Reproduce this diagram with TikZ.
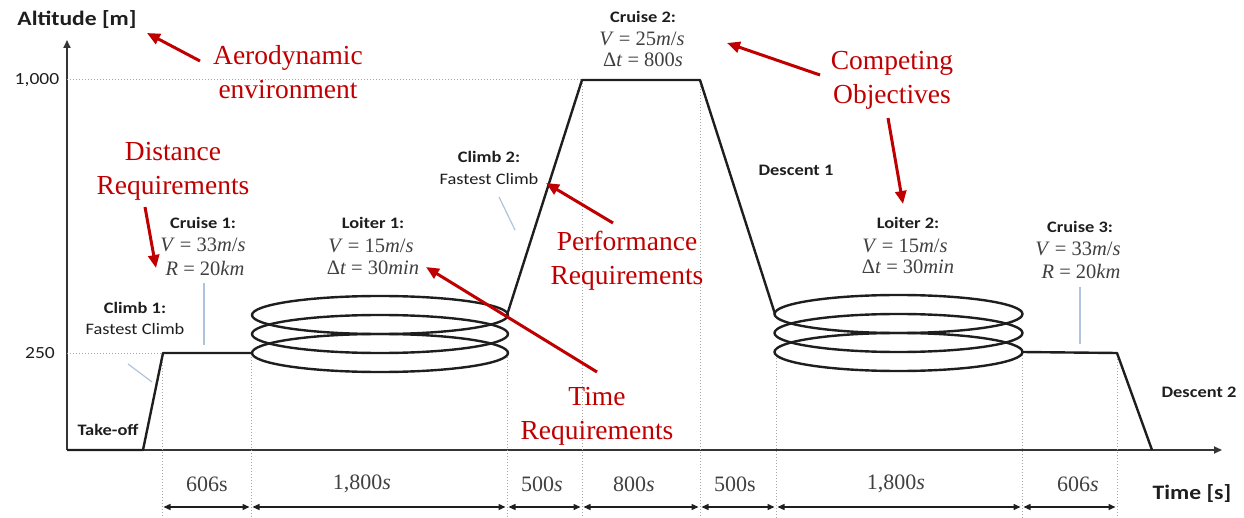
\documentclass[tikz,border=0pt]{standalone}
\usepackage{fontspec}
\setmainfont{Liberation Serif}
\newfontfamily\labfont[FakeStretch=1.15]{Carlito}
\newfontfamily\eqfont{Liberation Serif}
\usetikzlibrary{arrows.meta}
\definecolor{annot}{RGB}{192,0,0}
\definecolor{leader}{RGB}{175,195,220}
\definecolor{ink}{RGB}{30,30,30}
\newcommand{\vr}[1]{\textit{#1}}
\tikzset{
  lab/.style={font=\labfont\fontsize{16}{19}\selectfont, text=ink, inner sep=0pt},
  blab/.style={font=\labfont\bfseries\fontsize{16}{19}\selectfont, text=ink, inner sep=0pt},
  axlab/.style={font=\labfont\bfseries\fontsize{20.5}{24}\selectfont, text=ink, inner sep=0pt},
  ticklab/.style={font=\labfont\fontsize{17}{20}\selectfont, text=ink, inner sep=0pt},
  mathlab/.style={font=\eqfont\fontsize{20.5}{24}\selectfont, text=ink!85, inner sep=0pt},
  dimlab/.style={font=\eqfont\fontsize{22}{25}\selectfont, text=ink!85, inner sep=0pt},
  note/.style={font=\fontsize{27.5}{34}\selectfont, text=annot, align=center, inner sep=0pt},
  notearrow/.style={draw=annot, line width=3pt, -{Triangle[length=13pt,width=11pt]}},
  profile/.style={line width=2.4pt, draw=ink, line join=round},
  axis/.style={line width=1.8pt, draw=ink!90, -{Triangle[length=8pt,width=7pt]}},
  guide/.style={draw=gray!70, dotted, line width=1pt},
  dim/.style={line width=1.4pt, draw=ink, {Triangle[length=7pt,width=6pt]}-{Triangle[length=7pt,width=6pt]}, shorten <=1.5pt, shorten >=1.5pt},
  leaderline/.style={draw=leader, line width=1.2pt},
}
\begin{document}
\begin{tikzpicture}[x=1pt,y=-1pt]
\useasboundingbox (0,0) rectangle (1244,518);

% axes
\coordinate (O) at (67,450);
\coordinate (ytop) at (67,40);
\coordinate (xend) at (1222,450);
\draw[axis] (O) -- (ytop);
\draw[axis] (O) -- (xend);
\node[axlab] (ylab) at (77,20) {Altitude [m]};
\node[axlab] (xlab) at (1192,494) {Time [s]};
\node[ticklab] (t1000) at (37,80) {1,000};
\node[ticklab] (t250) at (40,353) {250};

% profile corners
\coordinate (c1a) at (143,450);
\coordinate (c1b) at (163,353);
\coordinate (l1in) at (252,353);
\coordinate (l1out) at (507,315);
\coordinate (c2top) at (582,80);
\coordinate (d1top) at (700,80);
\coordinate (l2in) at (775,314);
\coordinate (l2out) at (1022,352);
\coordinate (d2top) at (1117,353);
\coordinate (d2bot) at (1152,450);

% reference levels
\draw[guide] (67,80) -- (c2top);
\draw[guide] (67,353) -- (c1b);

% phase boundaries
\foreach \n/\x/\y in {g0/162/353, g1/251/357, g2/507/357, g3/582/80, g4/700/80, g5/776/355, g6/1022/355, g7/1117/353}{
  \coordinate (\n) at (\x,\y);
  \coordinate (\n b) at (\x,518);
  \draw[guide] (\n) -- (\n b);
}

% flight profile
\draw[profile] (O) -- (c1a) -- (c1b) -- (l1in);
\draw[profile] (l1out) -- (c2top) -- (d1top) -- (l2in);
\draw[profile] (l2out) -- (d2top) -- (d2bot);

% loiter coils
\foreach \yy in {315,334,353}{
  \draw[profile] (380,\yy) ellipse [x radius=128, y radius=19];
  \draw[profile] (898.5,\yy-1) ellipse [x radius=124, y radius=19];
}

% phase labels
\node[blab] (to) at (108,430) {Take-off};
\node[blab] (cl1) at (135,308) {Climb 1:};
\node[lab] (cl1b) at (135,329) {Fastest Climb};
\node[blab] (cr1) at (203,223) {Cruise 1:};
\node[mathlab] (cr1v) at (203,245) {\vr{V} = 33\vr{m}/\vr{s}};
\node[mathlab] (cr1r) at (205,268) {\vr{R} = 20\vr{km}};
\node[blab] (lo1) at (373,223) {Loiter 1:};
\node[mathlab] (lo1v) at (371,246) {\vr{V} = 15\vr{m}/\vr{s}};
\node[mathlab] (lo1t) at (373,268) {Δ\vr{t} = 30\vr{min}};
\node[blab] (cl2) at (489,157) {Climb 2:};
\node[lab] (cl2b) at (489,179) {Fastest Climb};
\node[blab] (cr2) at (643,17) {Cruise 2:};
\node[mathlab] (cr2v) at (642,39) {\vr{V} = 25\vr{m}/\vr{s}};
\node[mathlab] (cr2t) at (643,60) {Δ\vr{t} = 800\vr{s}};
\node[blab] (de1) at (796,170) {Descent 1};
\node[blab] (lo2) at (908,223) {Loiter 2:};
\node[mathlab] (lo2v) at (905,246) {\vr{V} = 15\vr{m}/\vr{s}};
\node[mathlab] (lo2t) at (908,267) {Δ\vr{t} = 30\vr{min}};
\node[blab] (cr3) at (1080,227) {Cruise 3:};
\node[mathlab] (cr3v) at (1078,249) {\vr{V} = 33\vr{m}/\vr{s}};
\node[mathlab] (cr3r) at (1081,271) {\vr{R} = 20\vr{km}};
\node[blab] (de2) at (1199,392) {Descent 2};

% leader ticks
\coordinate (k1a) at (128,364); \coordinate (k1b) at (152,382);
\coordinate (k2a) at (204,283); \coordinate (k2b) at (204,345);
\coordinate (k3a) at (499,197); \coordinate (k3b) at (515,230);
\coordinate (k4a) at (1080,287); \coordinate (k4b) at (1080,344);
\draw[leaderline] (k1a) -- (k1b);
\draw[leaderline] (k2a) -- (k2b);
\draw[leaderline] (k3a) -- (k3b);
\draw[leaderline] (k4a) -- (k4b);

% durations
\foreach \a in {0,...,7}{
  \coordinate (da\a) at (g\a |- 0,507);
}
\foreach \a/\b in {0/1,1/2,2/3,3/4,4/5,5/6,6/7}{
  \draw[dim] (da\a) -- (da\b);
}
\node[dimlab] (s1) at (207,484) {606s};
\node[dimlab] (s2) at (362,484) {1,800\vr{s}};
\node[dimlab] (s3) at (542,484) {500\vr{s}};
\node[dimlab] (s4) at (634,484) {800\vr{s}};
\node[dimlab] (s5) at (735,484) {500s};
\node[dimlab] (s6) at (896,484) {1,800\vr{s}};
\node[dimlab] (s7) at (1078,484) {606\vr{s}};

% annotations
\node[note] (aero) at (288,72) {Aerodynamic\\environment};
\node[note] (dist) at (173,171) {Distance\\Requirements};
\node[note] (perf) at (627,261) {Performance\\Requirements};
\node[note] (timereq) at (597,416) {Time\\Requirements};
\node[note] (comp) at (892,80) {Competing\\Objectives};

\coordinate (aeroT) at (200,61);  \coordinate (aeroH) at (147,33);
\coordinate (distT) at (145,207); \coordinate (distH) at (156,268);
\coordinate (perfT) at (613,223); \coordinate (perfH) at (546,183);
\coordinate (timeT) at (597,372); \coordinate (timeH) at (426,267);
\coordinate (compT1) at (820,75); \coordinate (compH1) at (727,43);
\coordinate (compT2) at (888,118); \coordinate (compH2) at (903,204);
\draw[notearrow] (aeroT) -- (aeroH);
\draw[notearrow] (distT) -- (distH);
\draw[notearrow] (perfT) -- (perfH);
\draw[notearrow] (timeT) -- (timeH);
\draw[notearrow] (compT1) -- (compH1);
\draw[notearrow] (compT2) -- (compH2);
\end{tikzpicture}
\end{document}
